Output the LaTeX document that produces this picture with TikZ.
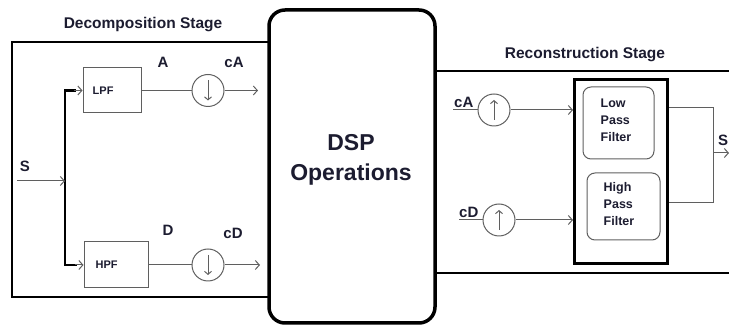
\documentclass[tikz,border=0pt]{standalone}
\usepackage{fontspec}
\setmainfont{Liberation Sans}
\usetikzlibrary{arrows.meta,calc}
\definecolor{ink}{RGB}{28,28,48}
\definecolor{wirec}{RGB}{95,95,95}
\begin{document}
\begin{tikzpicture}[x=1pt,y=-1pt,
  outline/.style={line width=2.6pt,draw=black},
  wire/.style={line width=1pt,draw=wirec},
  bus/.style={line width=2.6pt,draw=black},
  arr/.style={wire,-{Straight Barb[length=4pt,width=9pt]}},
  filt/.style={rectangle,draw=wirec,line width=1pt,inner sep=0pt},
  samp/.style={circle,draw=wirec,line width=1pt,minimum size=32pt,inner sep=0pt},
  rbox/.style={rectangle,draw=wirec,line width=1pt,rounded corners=8pt,inner sep=0pt},
  lbl/.style={text=ink,font=\bfseries\fontsize{15}{17}\selectfont,inner sep=0pt},
  small/.style={text=ink,font=\bfseries\fontsize{11}{13}\selectfont,inner sep=0pt},
  stage/.style={text=ink,font=\bfseries\fontsize{15.5}{17}\selectfont,inner sep=0pt},
  ftext/.style={text=ink,font=\bfseries\fontsize{12.5}{17}\selectfont,align=left,inner sep=0pt}
]
\useasboundingbox (0,0) rectangle (729,328);

% decomposition stage frame
\draw[outline] (270,42) -- (12,42) -- (12,297) -- (270,297);
\node[stage] (dtitle) at (143,25) {Decomposition Stage};

% analysis filters
\node[filt,minimum width=58pt,minimum height=45pt] (lpf) at (112,90.5) {};
\node[small,anchor=west] (lpft) at ($(lpf.west)+(10,0)$) {LPF};
\node[filt,minimum width=64pt,minimum height=46pt] (hpf) at (116,265) {};
\node[small,anchor=west] (hpft) at ($(hpf.west)+(12,0)$) {HPF};

% input and branch
\coordinate (sin) at (17,181);
\coordinate (jt) at (65,90.5);
\coordinate (jb) at (65,265);
\draw[bus] ($(lpf.west)+(-7,0)$) -- (jt) -- (jb) -- ($(hpf.west)+(-7,0)$);
\draw[arr] ($(lpf.west)+(-9,0)$) -- (lpf.west);
\draw[arr] ($(hpf.west)+(-9,0)$) -- (hpf.west);
\draw[arr] (sin) -- (sin -| jt);
\node[lbl] (slbl) at (25,166) {S};

% downsamplers
\node[samp] (da) at (208,90.5) {};
\draw[wire,-{Straight Barb[length=3pt,width=7pt]}] ($(da.center)+(0,-10)$) -- ($(da.center)+(0,10)$);
\node[samp] (dd) at (208,265) {};
\draw[wire,-{Straight Barb[length=3pt,width=7pt]}] ($(dd.center)+(0,-10)$) -- ($(dd.center)+(0,10)$);
\draw[wire] (lpf.east) -- (da);
\draw[wire] (hpf.east) -- (dd);
\coordinate (oa) at (258,90.5);
\coordinate (od) at (260,265);
\draw[arr] (da) -- (oa);
\draw[arr] (dd) -- (od);
\node[lbl] (la) at (163,62) {A};
\node[lbl] (lca) at (234,62) {cA};
\node[lbl] (ld) at (168,230) {D};
\node[lbl] (lcd) at (233,233) {cD};

% reconstruction stage frame
\draw[outline] (437,71) -- (729,71);
\draw[outline] (437,273) -- (729,273);
\node[stage] (rtitle) at (585,55) {Reconstruction Stage};

% DSP block
\node[draw=black,line width=3.5pt,rounded corners=16pt,fill=white,
  minimum width=166pt,minimum height=313pt] (dsp) at (352,166.5) {};
\node[text=ink,font=\bfseries\fontsize{23}{30}\selectfont,align=center] (dspt) at (351,160) {DSP\\Operations};

% synthesis filter bank
\node[rectangle,draw=black,line width=3pt,minimum width=93pt,minimum height=184pt] (fb) at (621,171.5) {};
\node[rbox,minimum width=71pt,minimum height=72pt] (lowf) at (618.5,123) {};
\node[ftext] (lowt) at (616,120) {Low\\Pass\\Filter};
\node[rbox,minimum width=73pt,minimum height=67pt] (highf) at (623.5,206.5) {};
\node[ftext] (hight) at (619,204) {High\\Pass\\Filter};

% upsamplers
\node[samp] (ua) at (494,110) {};
\draw[wire,-{Straight Barb[length=3pt,width=7pt]}] ($(ua.center)+(0,10)$) -- ($(ua.center)+(0,-10)$);
\node[samp] (ud) at (499,220) {};
\draw[wire,-{Straight Barb[length=3pt,width=7pt]}] ($(ud.center)+(0,10)$) -- ($(ud.center)+(0,-10)$);
\coordinate (ia) at (453,110);
\coordinate (id) at (459,220);
\draw[wire] (ia) -- (ua);
\draw[wire] (id) -- (ud);
\node[lbl,anchor=south west] (lua) at (454,108) {cA};
\node[lbl,anchor=south west] (lud) at (459,218) {cD};
\draw[arr] (ua) -- (ua -| fb.west);
\draw[arr] (ud) -- (ud -| fb.west);

% output combiner
\coordinate (c1) at (713,108);
\coordinate (c2) at (713,203);
\coordinate (cm) at (713,153);
\coordinate (out) at (729,153);
\draw[wire] (c1 -| fb.east) -- (c1) -- (c2) -- (c2 -| fb.east);
\draw[arr] (cm) -- (out);
\node[lbl] (so) at (723,140) {S};
\end{tikzpicture}
\end{document}
